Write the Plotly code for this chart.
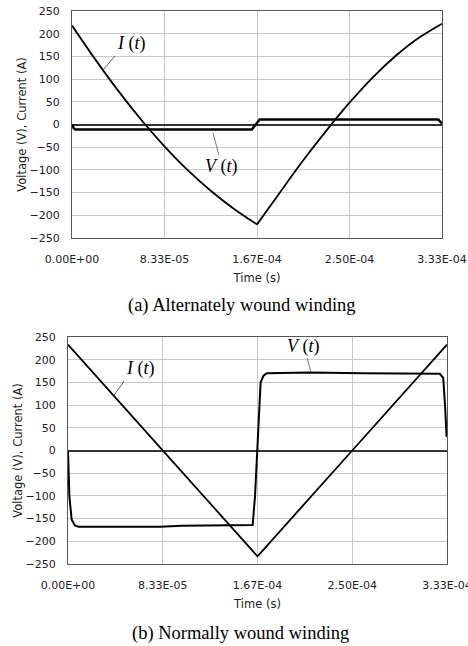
import plotly.graph_objects as go

# ---------------- data ----------------
tick_vals = [0, 8.333e-5, 1.6667e-4, 2.5e-4, 3.3333e-4]
tick_text = ["0.00E+00", "8.33E-05", "1.67E-04", "2.50E-04", "3.33E-04"]
y_ticks = [250, 200, 150, 100, 50, 0, -50, -100, -150, -200, -250]

# (a) alternately wound winding
a_t_I = [0, 2.08e-5, 4.17e-5, 6.25e-5, 8.33e-5, 1.04e-4, 1.25e-4, 1.46e-4, 1.667e-4,
         1.875e-4, 2.08e-4, 2.29e-4, 2.50e-4, 2.71e-4, 2.92e-4, 3.125e-4, 3.333e-4]
a_I = [218, 144, 74, 10, -48, -100, -146, -186, -220,
       -149, -80, -14, 48, 104, 152, 191, 222]
a_t_V = [0, 1.5e-6, 3e-6, 1.0e-4, 1.62e-4, 1.69e-4, 2.5e-4, 3.30e-4, 3.333e-4]
a_V = [0, -8, -11, -11, -11, 11, 11, 11, 2]

# (b) normally wound winding
b_t_I = [0, 8.333e-5, 1.6667e-4, 2.5e-4, 3.3333e-4]
b_I = [233, 0, -233, 0, 233]
b_t_V = [0, 0.6e-6, 1.2e-6, 3.2e-6, 6e-6, 9.1e-6, 8.1e-5, 1.0e-4, 1.624e-4, 1.645e-4,
         1.674e-4, 1.694e-4, 1.72e-4, 1.747e-4, 2.13e-4, 2.59e-4, 3.27e-4, 3.30e-4,
         3.316e-4, 3.33e-4]
b_V = [0, -60, -100, -152, -165, -168, -168, -166, -164, -100,
       50, 150, 165, 170, 172, 170, 169, 160, 100, 30]

# ---------------- figure ----------------
fig = go.Figure()
fig.add_trace(go.Scatter(x=a_t_I[:9], y=a_I[:9], mode="lines",
                         line=dict(color="black", width=1.8, shape="spline", smoothing=0.8),
                         xaxis="x", yaxis="y", hoverinfo="skip"))
fig.add_trace(go.Scatter(x=a_t_I[8:], y=a_I[8:], mode="lines",
                         line=dict(color="black", width=1.8, shape="spline", smoothing=0.8),
                         xaxis="x", yaxis="y", hoverinfo="skip"))
fig.add_trace(go.Scatter(x=a_t_V, y=a_V, mode="lines", line=dict(color="black", width=2.5),
                         xaxis="x", yaxis="y", hoverinfo="skip"))
fig.add_trace(go.Scatter(x=b_t_I, y=b_I, mode="lines", line=dict(color="black", width=1.8),
                         xaxis="x2", yaxis="y2", hoverinfo="skip"))
fig.add_trace(go.Scatter(x=b_t_V, y=b_V, mode="lines", line=dict(color="black", width=2),
                         xaxis="x2", yaxis="y2", hoverinfo="skip"))

W, H = 468, 646
tickfont = dict(family="DejaVu Sans", size=11, color="#222")
titlefont = dict(family="DejaVu Sans", size=11.5, color="#222")

def xax(domain, anchor):
    return dict(domain=domain, anchor=anchor, range=[0, 3.3333e-4], tickvals=tick_vals, ticktext=tick_text,
                showgrid=True, gridcolor="#c8c8c8", gridwidth=1, zeroline=False,
                showline=True, mirror=True, linecolor="#555", linewidth=1,
                ticks="", tickfont=tickfont, ticklabelstandoff=11, automargin=False,
                ticklabeloverflow="allow",
                title=dict(text="Time (s)", font=titlefont, standoff=8))

def yax(domain, anchor):
    return dict(domain=domain, anchor=anchor, range=[-250, 250], tickvals=y_ticks,
                showgrid=True, gridcolor="#c8c8c8", gridwidth=1,
                zeroline=True, zerolinecolor="#333", zerolinewidth=1.5,
                showline=True, mirror=True, linecolor="#555", linewidth=1,
                ticks="", tickfont=tickfont, ticklabelstandoff=9, automargin=False,
                title=dict(text="Voltage (V), Current (A)", font=titlefont, standoff=0))

fig.update_layout(
    width=W, height=H, margin=dict(l=0, r=0, t=0, b=0, autoexpand=False),
    paper_bgcolor="white", plot_bgcolor="white", showlegend=False,
    xaxis=xax([72 / W, 442 / W], "y"),
    yaxis=yax([1 - 238 / H, 1 - 11 / H], "x"),
    xaxis2=xax([68 / W, 447 / W], "y2"),
    yaxis2=yax([1 - 564 / H, 1 - 337 / H], "x2"),
)

lab_font = dict(family="Liberation Serif", size=18, color="black")
annots = [
    dict(x=2.79e-5, y=120, xref="x", yref="y", text="<i>I</i> (<i>t</i>)", ax=12, ay=-14,
         showarrow=True, arrowhead=0, arrowwidth=0.8, arrowcolor="#333", font=lab_font,
         xanchor="left", yanchor="bottom"),
    dict(x=1.27e-4, y=-18, xref="x", yref="y", text="<i>V</i> (<i>t</i>)", ax=9, ay=34,
         showarrow=True, arrowhead=0, arrowwidth=0.8, arrowcolor="#555", font=lab_font),
    dict(x=3.96e-5, y=119, xref="x2", yref="y2", text="<i>I</i> (<i>t</i>)", ax=11, ay=-15,
         showarrow=True, arrowhead=0, arrowwidth=0.8, arrowcolor="#333", font=lab_font,
         xanchor="left", yanchor="bottom"),
    dict(x=2.137e-4, y=172, xref="x2", yref="y2", text="<i>V</i> (<i>t</i>)", ax=-7, ay=-26,
         showarrow=True, arrowhead=0, arrowwidth=0.8, arrowcolor="#555", font=lab_font),
]
cap_font = dict(family="Liberation Serif", size=18.5, color="black")
annots.append(dict(x=242 / W, y=1 - 305 / H, xref="paper", yref="paper", text="(a) Alternately wound winding",
                   showarrow=False, font=cap_font, xanchor="center", yanchor="middle"))
annots.append(dict(x=241 / W, y=1 - 633 / H, xref="paper", yref="paper", text="(b) Normally wound winding",
                   showarrow=False, font=cap_font, xanchor="center", yanchor="middle"))
fig.update_layout(annotations=annots)

fig.write_html("out.html", config={"displayModeBar": False},
               post_script="document.body.style.margin='0';document.body.style.overflow='hidden';")
